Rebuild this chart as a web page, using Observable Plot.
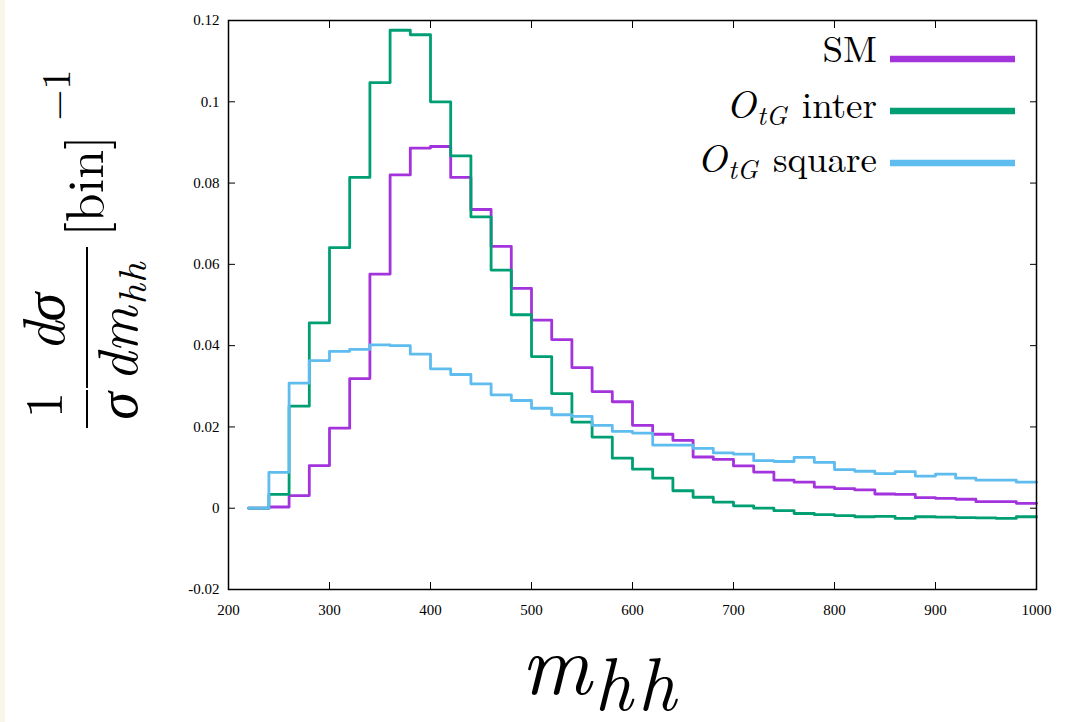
<!DOCTYPE html>
<html>
<head>
<meta charset="utf-8">
<script src="https://cdn.jsdelivr.net/npm/d3@7"></script>
<script src="https://cdn.jsdelivr.net/npm/@observablehq/plot@0.6"></script>
<style>
html, body { margin: 0; padding: 0; background: #fff; }
#wrap { position: relative; width: 1067px; height: 722px; overflow: hidden; background: #fff; }
#chart { position: absolute; left: 0; top: 0; }
#overlay { position: absolute; left: 0; top: 0; }
#strip { position: absolute; left: 0; top: 0; width: 5px; height: 722px; background: #f8f6e6; }
</style>
</head>
<body>
<div id="wrap">
  <div id="chart"></div>
  <svg id="overlay" width="1067" height="722"></svg>
  <div id="strip"></div>
</div>
<script>
// ---- data ----
const binStarts = [220,240,260,280,300,320,340,360,380,400,420,440,460,480,500,520,540,560,580,600,
                   620,640,660,680,700,720,740,760,780,800,820,840,860,880,900,920,940,960,980];
const binWidth = 20;
const smValues = [0,0.0003,0.0031,0.0105,0.0197,0.0319,0.0576,0.0820,0.0886,0.0890,
                  0.0814,0.0735,0.0644,0.0541,0.0463,0.0415,0.0346,0.0287,0.0262,0.0204,
                  0.0182,0.0167,0.0126,0.0120,0.0104,0.0089,0.0069,0.0064,0.0052,0.0048,
                  0.0045,0.0035,0.0034,0.0026,0.0024,0.0022,0.0016,0.0016,0.0012];
const interValues = [0,0.0034,0.0251,0.0456,0.0641,0.0814,0.1047,0.1176,0.1165,0.1000,
                     0.0867,0.0717,0.0586,0.0476,0.0373,0.0282,0.0212,0.0175,0.0123,0.0096,
                     0.0074,0.0043,0.0027,0.0015,0.0006,0.0000,-0.0006,-0.0013,-0.0016,-0.0018,
                     -0.0021,-0.0020,-0.0025,-0.0021,-0.0022,-0.0023,-0.0024,-0.0025,-0.0021];
const squareValues = [0,0.0088,0.0308,0.0363,0.0386,0.0391,0.0402,0.0400,0.0379,0.0343,
                      0.0329,0.0306,0.0279,0.0265,0.0246,0.0230,0.0226,0.0204,0.0189,0.0185,
                      0.0155,0.0155,0.0147,0.0136,0.0133,0.0117,0.0115,0.0125,0.0113,0.0095,
                      0.0091,0.0085,0.0090,0.0079,0.0084,0.0074,0.0069,0.0069,0.0064];
const seriesNames = ["SM", "OtG inter", "OtG square"];
const seriesColors = ["#a333dd", "#009e73", "#5ebcee"];
const xTicks = [200,300,400,500,600,700,800,900,1000];
const xTickLabels = ["200","300","400","500","600","700","800","900","1000"];
const yTicks = [-0.02,0,0.02,0.04,0.06,0.08,0.1,0.12];
const yTickLabels = ["-0.02","0","0.02","0.04","0.06","0.08","0.1","0.12"];

// ---- build rows ----
function stepRows(values, name) {
  const rows = binStarts.map((x, i) => ({x, y: values[i], series: name}));
  rows.push({x: binStarts[binStarts.length - 1] + binWidth, y: values[values.length - 1], series: name});
  return rows;
}
const rows = [
  ...stepRows(smValues, seriesNames[0]),
  ...stepRows(interValues, seriesNames[1]),
  ...stepRows(squareValues, seriesNames[2])
];
const xLabelMap = new Map(xTicks.map((t, i) => [t, xTickLabels[i]]));
const yLabelMap = new Map(yTicks.map((t, i) => [t, yTickLabels[i]]));
const tickFont = '"Liberation Serif", monospace';
const texFont = '"Latin Modern Roman", "Liberation Serif", monospace';

const chart = Plot.plot({
  width: 1067,
  height: 722,
  marginLeft: 228,
  marginRight: 31,
  marginTop: 20,
  marginBottom: 133,
  style: {fontFamily: tickFont, fontSize: "15px", background: "transparent", color: "#000", overflow: "visible"},
  x: {domain: [200, 1000], label: null},
  y: {domain: [-0.02, 0.12], label: null},
  color: {domain: seriesNames, range: seriesColors},
  marks: [
    Plot.line(rows, {x: "x", y: "y", z: "series", stroke: "series", strokeWidth: 2.8, curve: "step-after"}),
    Plot.axisX(xTicks, {anchor: "bottom", tickSize: 0, tickPadding: 15, tickFormat: d => xLabelMap.get(d), label: null, fontSize: 15}),
    Plot.axisX(xTicks, {anchor: "bottom", tickSize: -7, fill: "none", label: null}),
    Plot.axisX(xTicks, {anchor: "top", tickSize: -7, fill: "none", label: null}),
    Plot.axisY(yTicks, {anchor: "left", tickSize: 0, tickPadding: 9, tickFormat: d => yLabelMap.get(d), label: null, fontSize: 15}),
    Plot.axisY(yTicks, {anchor: "left", tickSize: -7, fill: "none", label: null}),
    Plot.axisY(yTicks, {anchor: "right", tickSize: -7, fill: "none", label: null}),
    Plot.frame({stroke: "#000", strokeWidth: 1.5})
  ]
});
document.getElementById("chart").appendChild(chart);
d3.select(chart).style("font-family", tickFont);
d3.select(chart).selectAll("text").style("font-family", tickFont);

// ---- overlay: legend and axis titles ----
const ov = d3.select("#overlay");
function txt(parent, x, y, size, str, opts = {}) {
  const t = parent.append("text").attr("x", x).attr("y", y)
    .style("font-family", texFont).style("font-size", size + "px")
    .attr("fill", "#000");
  if (opts.anchor) t.attr("text-anchor", opts.anchor);
  if (opts.italic) t.style("font-style", "italic");
  if (str !== null) t.text(str);
  return t;
}
function span(t, str, size, opts = {}) {
  const s = t.append("tspan").style("font-family", texFont).style("font-size", size + "px").text(str);
  if (opts.italic) s.style("font-style", "italic");
  if (opts.dy) s.attr("dy", opts.dy);
  if (opts.dx) s.attr("dx", opts.dx);
  if (opts.ls) s.style("letter-spacing", opts.ls + "px");
  return s;
}

const legendRowsY = [59, 111, 163];
seriesColors.forEach((c, i) => {
  ov.append("line").attr("x1", 890).attr("x2", 1015).attr("y1", legendRowsY[i]).attr("y2", legendRowsY[i])
    .attr("stroke", c).attr("stroke-width", 6.5);
});
txt(ov, 877, 62, 37, "SM", {anchor: "end"});
function legendOtG(y, word) {
  const t = txt(ov, 877, y, 37, null, {anchor: "end"});
  span(t, "O", 39, {italic: true});
  span(t, "tG", 27, {italic: true, dy: 7, dx: 1});
  span(t, word, 37, {dy: -7, dx: 15});
}
legendOtG(118, "inter");
legendOtG(172, "square");

// x-axis title
const xt = txt(ov, 521, 694, 86, null);
span(xt, "m", 86, {italic: true});
span(xt, "hh", 75, {italic: true, dy: 16, dx: 3, ls: 5});

// y-axis title (rotated)
const yg = ov.append("g").attr("transform", "rotate(-90)");
txt(yg, -405, 62, 52, "1", {anchor: "middle"});
yg.append("line").attr("x1", -428).attr("x2", -390).attr("y1", 87).attr("y2", 87).attr("stroke", "#000").attr("stroke-width", 2);
txt(yg, -406, 137, 56, "σ", {anchor: "middle", italic: true});
txt(yg, -322, 64, 58, "dσ", {anchor: "middle", italic: true});
yg.append("line").attr("x1", -388).attr("x2", -247).attr("y1", 87).attr("y2", 87).attr("stroke", "#000").attr("stroke-width", 2);
const dm = txt(yg, -381, 137, 56, null);
span(dm, "dm", 56, {italic: true});
span(dm, "hh", 40, {italic: true, dy: 9, dx: 2, ls: 1});
txt(yg, -186, 103, 52, "[bin]", {anchor: "middle"});
txt(yg, -95, 70, 40, "−1", {anchor: "middle"});
</script>
</body>
</html>
